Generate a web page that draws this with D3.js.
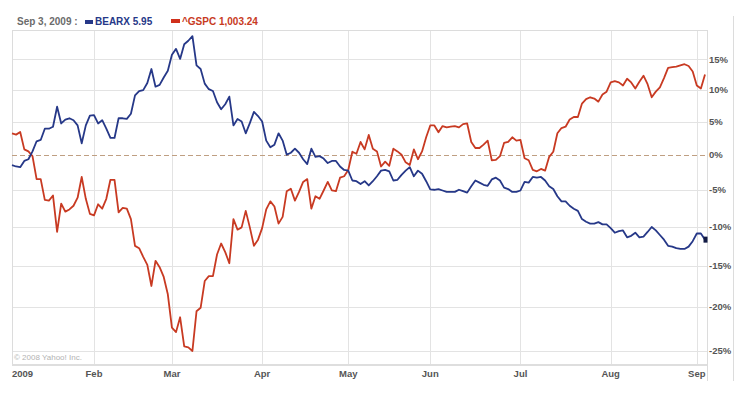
<!DOCTYPE html>
<html lang="en">
<head>
<meta charset="UTF-8">
<title>BEARX vs ^GSPC</title>
<style>
    body { margin: 0; background: #fff; }
    text { font-family: "Liberation Sans", Arial, sans-serif; }
    .grid line { stroke: #e3e3e3; stroke-width: 1px; }
    .frame { stroke: #dcdcdc; stroke-width: 1px; }
    .axis-label { font-size: 9.5px; font-weight: bold; fill: #555; }
    .series { fill: none; stroke-width: 1.8px; stroke-linejoin: round; }
</style>
</head>
<body>
<svg id="chart" width="756" height="398"></svg>
<script src="https://d3js.org/d3.v7.min.js"></script>
<script>
// market holidays between Jan 2 and Sep 3, 2009
const holidays = ["2009-01-19", "2009-02-16", "2009-04-10", "2009-05-25", "2009-07-03"];
const monthLabels = ["2009", "Feb", "Mar", "Apr", "May", "Jun", "Jul", "Aug", "Sep"];
const yTicks = [15, 10, 5, 0, -5, -10, -15, -20, -25];

// % change since Dec 31, 2008, one value per trading day
const bearx = [
    -1.5, -1.7, -1.8, -0.9, -0.65, 0.5, 2.0, 2.2, 3.9, 3.9,
    4.2, 7.3, 4.7, 5.3, 5.5, 5.2, 4.4, 1.7, 4.4, 5.9,
    6.0, 4.7, 5.2, 3.9, 2.5, 2.5, 5.5, 5.5, 5.4, 6.2,
    9.1, 9.8, 9.95, 11.1, 13.4, 10.5, 10.8, 12.0, 13.1, 15.8,
    16.8, 15.1, 17.6, 18.2, 19.0, 14.0, 13.4, 11.0, 10.1, 9.8,
    8.0, 6.9, 7.7, 8.9, 4.4, 5.4, 5.0, 3.2, 4.75, 6.5,
    5.85, 5.0, 2.1, 1.1, 1.5, 3.2, 2.1, 0.0, 0.3, 0.9,
    0.3, -0.65, -1.35, 0.9, -0.3, -0.2, -0.55, -1.2, -0.9, -0.9,
    -1.7, -2.2, -2.3, -3.7, -3.8, -4.2, -3.8, -4.4, -3.8, -3.1,
    -2.3, -2.2, -2.4, -3.7, -3.6, -2.9, -2.3, -1.8, -3.1, -2.3,
    -2.75, -3.8, -4.95, -5.0, -4.9, -5.1, -5.3, -5.3, -5.3, -5.0,
    -5.2, -5.4, -4.5, -3.7, -4.0, -4.3, -4.45, -3.55, -3.3, -3.7,
    -4.7, -4.9, -5.3, -5.3, -5.1, -3.9, -4.0, -3.2, -3.3, -3.2,
    -3.7, -4.5, -4.9, -5.9, -6.6, -6.6, -7.2, -7.6, -7.9, -9.0,
    -9.35, -9.6, -9.6, -9.4, -9.7, -9.7, -10.2, -10.8, -10.6, -10.5,
    -11.4, -11.2, -10.8, -11.4, -11.3, -10.7, -10.05, -10.5, -11.1, -11.7,
    -12.5, -12.6, -12.8, -12.9, -12.9, -12.6, -11.9, -10.9, -10.9, -11.7
];
const gspc = [
    3.2, 3.0, 3.4, 0.8, 0.5, -0.2, -3.5, -3.5, -6.4, -6.5,
    -5.8, -10.7, -6.9, -8.0, -7.7, -7.2, -6.1, -3.2, -6.25, -8.3,
    -8.5, -7.0, -7.6, -6.25, -3.6, -3.6, -8.1, -7.5, -7.6, -9.0,
    -12.5, -12.8, -13.9, -14.9, -17.5, -14.4, -15.2, -16.4, -18.5, -22.4,
    -22.9, -21.2, -24.5, -24.6, -25.0, -20.5, -20.1, -16.9, -16.3, -16.3,
    -13.6, -12.2, -13.3, -14.7, -9.0, -10.4, -10.1, -7.9, -10.1, -12.5,
    -11.7, -10.2, -7.7, -6.6, -7.3, -9.6, -8.7, -5.2, -4.85, -6.5,
    -5.3, -3.9, -3.5, -7.6, -5.9, -6.25, -5.1, -3.9, -5.1, -5.2,
    -3.3, -3.1, -2.2, 0.45, 0.15, 1.9, 0.8, 2.96, 0.9, 0.5,
    -1.7, -1.0, -1.6, 0.9, 0.5, 0.0, -1.1, -1.5, 0.8, -0.65,
    0.5, 2.6, 4.4, 4.4, 3.35, 4.3, 4.1, 4.2, 4.3, 4.1,
    4.6, 4.7, 1.9, 1.0, 1.0, 1.5, 2.1, -0.8, -0.75, -0.2,
    1.75, 1.9, 2.6, 2.1, 2.2, -0.5, -0.8, -2.2, -2.4, -2.05,
    -2.3, -0.3, 0.45, 3.2, 4.0, 4.2, 5.3, 5.7, 5.7, 7.8,
    8.5, 8.8, 8.6, 8.1, 9.25, 9.7, 11.2, 11.4, 11.2, 10.7,
    11.8, 11.2, 10.2, 11.3, 12.3, 10.9, 8.8, 9.7, 10.4, 11.9,
    13.6, 13.7, 13.8, 14.0, 14.2, 13.9, 13.0, 10.7, 10.2, 12.5
];

const blueColor = "#263888";
const redColor = "#c83a22";

// trading days Jan 2 .. Sep 3, 2009
const fmt = d3.timeFormat("%Y-%m-%d");
const dates = d3.timeDay.range(new Date(2009, 0, 2), new Date(2009, 8, 4))
    .filter(d => d.getDay() !== 0 && d.getDay() !== 6 && !holidays.includes(fmt(d)));

const monthStarts = [];
dates.forEach((d, i) => {
    if (i === 0 || d.getMonth() !== dates[i - 1].getMonth()) monthStarts.push(i);
});

const plotLeft = 12, plotRight = 707, plotTop = 30, plotBottom = 364;

const x = d3.scaleLinear().domain([0, dates.length - 1]).range([plotLeft, 705]);
const y = d3.scaleLog().domain([0.7358, 1.2008]).range([plotBottom, plotTop]);
const yPct = v => y(1 + v / 100);

const svg = d3.select("#chart");

// grid
const grid = svg.append("g").attr("class", "grid");
grid.selectAll(".h").data(yTicks.filter(t => t !== 0)).enter().append("line")
    .attr("x1", plotLeft).attr("x2", plotRight)
    .attr("y1", d => Math.round(yPct(d)) + 0.5).attr("y2", d => Math.round(yPct(d)) + 0.5);
grid.selectAll(".v").data(monthStarts.slice(1)).enter().append("line")
    .attr("x1", d => Math.round(x(d)) + 0.5).attr("x2", d => Math.round(x(d)) + 0.5)
    .attr("y1", plotTop).attr("y2", plotBottom);

// frame
svg.append("line").attr("class", "frame").attr("x1", plotLeft + 0.5).attr("x2", plotLeft + 0.5).attr("y1", plotTop).attr("y2", plotBottom);
svg.append("line").attr("class", "frame").attr("x1", plotLeft).attr("x2", plotRight).attr("y1", plotTop + 0.5).attr("y2", plotTop + 0.5);
svg.append("line").attr("class", "frame").attr("x1", plotRight + 0.5).attr("x2", plotRight + 0.5).attr("y1", plotTop).attr("y2", 381);
svg.append("line").attr("class", "frame").attr("x1", 733.5).attr("x2", 733.5).attr("y1", 16).attr("y2", 381);
svg.append("line").attr("x1", plotLeft).attr("x2", plotRight).attr("y1", plotBottom + 1).attr("y2", plotBottom + 1)
    .attr("stroke", "#dedede").attr("stroke-width", 2);

// zero line
svg.append("line")
    .attr("x1", plotLeft).attr("x2", plotRight)
    .attr("y1", Math.round(yPct(0)) + 0.5).attr("y2", Math.round(yPct(0)) + 0.5)
    .attr("stroke", "#bf9f82").attr("stroke-width", 1.2).attr("stroke-dasharray", "5,3");

// copyright
svg.append("text").attr("x", 14).attr("y", 360)
    .attr("font-size", 8).attr("fill", "#b3b3b3").text("© 2008 Yahoo! Inc.");

// series
const line = d3.line().x((d, i) => x(i)).y(d => yPct(d));
svg.append("path").datum(gspc).attr("class", "series").attr("stroke", redColor).attr("d", line);
svg.append("path").datum(bearx).attr("class", "series").attr("stroke", blueColor).attr("d", line);

// end marker on BEARX
svg.append("rect")
    .attr("x", x(bearx.length - 1) - 1.5).attr("y", yPct(bearx[bearx.length - 1]) - 3)
    .attr("width", 4).attr("height", 6).attr("fill", "#111a44");

// y labels
svg.selectAll(".ylab").data(yTicks).enter().append("text")
    .attr("class", "axis-label")
    .attr("x", 709).attr("y", d => yPct(d) + 3.5)
    .text(d => d + "%");

// x labels
svg.selectAll(".xlab").data(monthStarts).enter().append("text")
    .attr("class", "axis-label")
    .attr("x", (d, i) => i === 0 ? plotLeft : x(d))
    .attr("y", 377)
    .attr("text-anchor", (d, i) => i === 0 ? "start" : "middle")
    .text((d, i) => monthLabels[i]);

// header
const head = svg.append("g").attr("font-size", 10).attr("font-weight", "bold");
head.append("text").attr("x", 17).attr("y", 24.5).attr("fill", "#6b6b6b").text("Sep 3, 2009 :");
head.append("rect").attr("x", 85).attr("y", 20).attr("width", 8).attr("height", 4).attr("fill", blueColor);
head.append("text").attr("x", 95).attr("y", 24.5).attr("fill", blueColor).text("BEARX  5.95");
head.append("rect").attr("x", 171).attr("y", 19).attr("width", 9).attr("height", 4).attr("fill", "#d0301c");
head.append("text").attr("x", 182).attr("y", 24.5).attr("fill", redColor).text("^GSPC  1,003.24");
</script>
</body>
</html>
